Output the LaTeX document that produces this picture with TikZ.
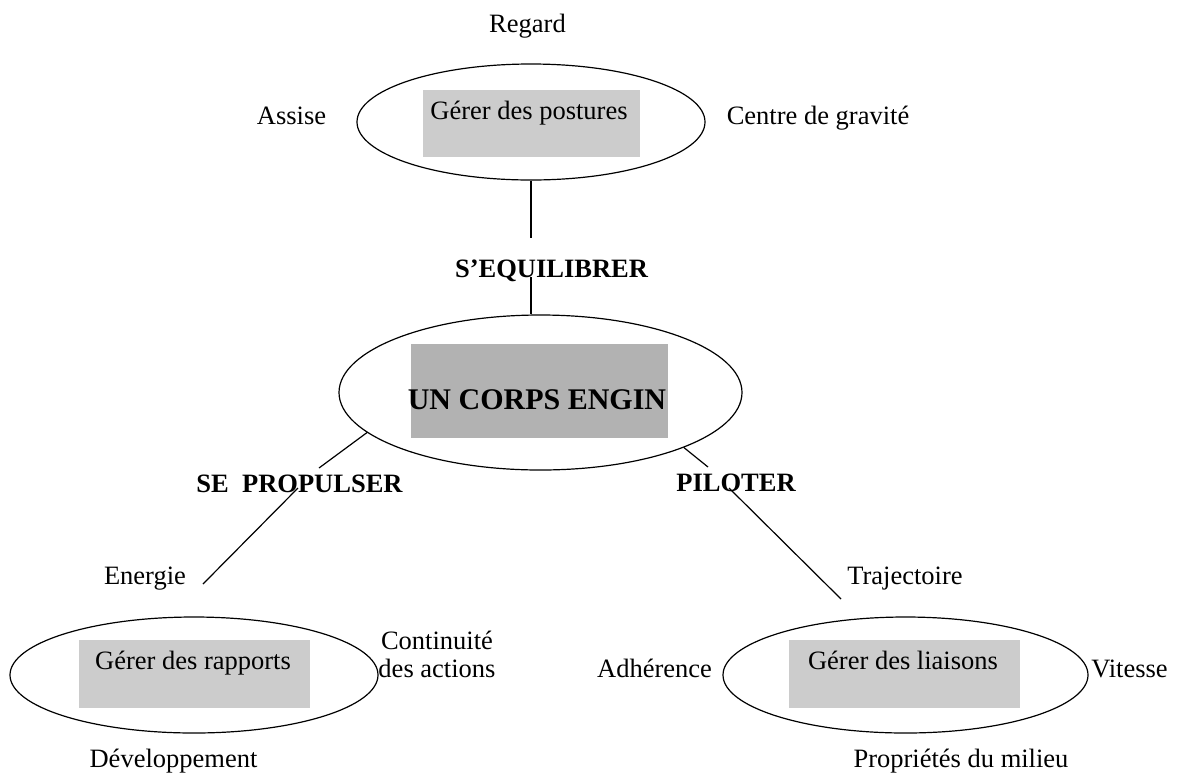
\documentclass[tikz,border=0pt]{standalone}
\usepackage{fontspec}
\setmainfont{Liberation Serif}[BoldFont={Liberation Serif Bold}]
\usetikzlibrary{shapes.geometric}
\definecolor{lightbox}{HTML}{CCCCCC}
\definecolor{darkbox}{HTML}{B2B2B2}
\begin{document}
\begin{tikzpicture}[x=1pt,y=-1pt,
  oval/.style={draw, ellipse, line width=1.2pt, inner sep=0pt},
  graybox/.style={fill=lightbox, inner sep=0pt},
  lbl/.style={font=\fontsize{26.5}{28}\selectfont, inner sep=0pt, anchor=base, align=center},
  blbl/.style={font=\fontsize{26.5}{28}\selectfont\bfseries, inner sep=0pt, anchor=base},
  conn/.style={line width=1.2pt}]
\useasboundingbox (0,0) rectangle (1177,772);

% ellipses
\node[oval, minimum width=348pt, minimum height=116pt] (top) at (531,122) {};
\node[oval, minimum width=403pt, minimum height=155pt] (mid) at (540.5,392.5) {};
\node[oval, minimum width=368pt, minimum height=116pt] (bl) at (194,675) {};
\node[oval, minimum width=365pt, minimum height=116pt] (br) at (905.5,675) {};

% gray boxes
\node[graybox, minimum width=217pt, minimum height=67pt] (topbox) at (531.5,123.5) {};
\node[graybox, fill=darkbox, minimum width=257pt, minimum height=94pt] (midbox) at (539.5,391) {};
\node[graybox, minimum width=231pt, minimum height=68pt] (blbox) at (194.5,674) {};
\node[graybox, minimum width=231pt, minimum height=68pt] (brbox) at (904.5,674) {};

% box texts
\node[lbl] (tpost) at (529,119) {Gérer des postures};
\node[blbl, font=\fontsize{30}{32}\selectfont\bfseries] (tcorps) at (537,409) {UN CORPS ENGIN};
\node[lbl] (trap) at (193,669) {Gérer des rapports};
\node[lbl] (tlia) at (903,669) {Gérer des liaisons};

% surrounding words
\node[lbl] (regard) at (527.5,32) {Regard};
\node[lbl] (assise) at (291.5,124) {Assise};
\node[lbl] (centre) at (818,124) {Centre de gravité};
\node[lbl] (energie) at (145,584) {Energie};
\node[lbl] (traj) at (905,584) {Trajectoire};
\node[lbl] (contin) at (437,677) {Continuité\\des actions};
\node[lbl] (adher) at (654.5,677) {Adhérence};
\node[lbl] (vit) at (1129.5,677) {Vitesse};
\node[lbl] (devel) at (173.5,767) {Développement};
\node[lbl] (propr) at (961,767) {Propriétés du milieu};

% verb labels
\node[blbl] (equil) at (551.5,277) {S’EQUILIBRER};
\node[blbl] (propul) at (299.5,492) {SE~\ PROPULSER};
\node[blbl] (pilot) at (736,491) {PILOTER};

% connector points
\coordinate (eqA) at (531,238);
\coordinate (eqB) at (531,277);
\coordinate (prA) at (319,468);
\coordinate (prB) at (298,488);
\coordinate (prC) at (203,584);
\coordinate (piA) at (708,467);
\coordinate (piB) at (729,488);
\coordinate (piC) at (841,599);

% connectors
\draw[conn] (top.south) -- (eqA);
\draw[conn] (eqB) -- (eqB |- mid.north);
\draw[conn] (mid.193) -- (prA);
\draw[conn] (prB) -- (prC);
\draw[conn] (mid.339) -- (piA);
\draw[conn] (piB) -- (piC);
\end{tikzpicture}
\end{document}
